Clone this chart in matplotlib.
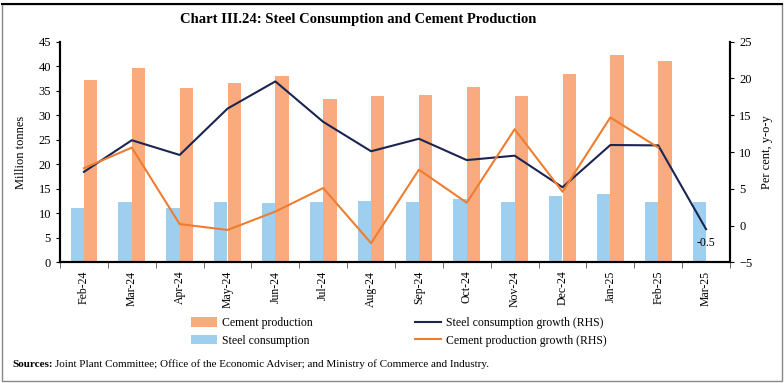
import numpy as np
import matplotlib.pyplot as plt
from matplotlib.patches import Rectangle

plt.rcParams['font.family'] = ['Liberation Serif', 'DejaVu Serif']

# Data
months = ['Feb-24', 'Mar-24', 'Apr-24', 'May-24', 'Jun-24', 'Jul-24', 'Aug-24',
          'Sep-24', 'Oct-24', 'Nov-24', 'Dec-24', 'Jan-25', 'Feb-25', 'Mar-25']
steel = [11.1, 12.4, 11.1, 12.3, 12.0, 12.2, 12.5, 12.4, 12.9, 12.35, 13.5, 13.9, 12.4, 12.4]
cement = [37.2, 39.6, 35.6, 36.5, 38.0, 33.4, 33.9, 34.2, 35.8, 33.9, 38.4, 42.2, 41.1, np.nan]
steel_growth = [7.3, 11.6, 9.6, 15.9, 19.6, 14.1, 10.1, 11.8, 8.9, 9.5, 5.2, 10.95, 10.9, -0.5]
cement_growth = [7.8, 10.6, 0.2, -0.6, 1.9, 5.1, -2.4, 7.6, 3.1, 13.1, 4.6, 14.7, 10.6, np.nan]

c_cement = '#F9AB7E'
c_steel = '#9FCFEE'
c_sg = '#1C2453'
c_cg = '#ED7D31'

fig = plt.figure(figsize=(7.84, 3.83), dpi=100)
ax = fig.add_axes([60/784, 1 - 262.3/383, 670/784, 220.6/383])
ax2 = ax.twinx()

x = np.arange(len(months))
w = 0.28
b1 = ax.bar(x + w/2, cement, width=w, color=c_cement, label='Cement production')
b2 = ax.bar(x - w/2, steel, width=w, color=c_steel, label='Steel consumption')
l1, = ax2.plot(x, steel_growth, color=c_sg, lw=1.5, label='Steel consumption growth (RHS)')
l2, = ax2.plot(x, cement_growth, color=c_cg, lw=1.5, label='Cement production growth (RHS)')
ax2.annotate('-0.5', (x[-1], steel_growth[-1]), xytext=(0, -10), textcoords='offset points',
             ha='center', va='center', fontsize=8.5)

ax.set_xlim(-0.5, len(months) - 0.5)
ax.set_ylim(0, 45)
ax.set_yticks(np.arange(0, 46, 5))
ax2.set_ylim(-5, 25)
ax2.set_yticks(np.arange(-5, 26, 5))

ax.set_xticks(x)
ax.set_xticklabels(months, rotation=90, fontsize=8.5)
ax.set_xticks(np.arange(-0.5, len(months), 1), minor=True)
ax.tick_params(axis='x', which='major', length=0, pad=6)
ax.tick_params(axis='x', which='minor', length=4, direction='out', color='#555555')
ax.tick_params(axis='y', labelsize=9, length=3)
ax2.tick_params(axis='y', labelsize=9, length=3)

for a in (ax, ax2):
    a.spines['top'].set_visible(False)
    a.spines['left'].set_linewidth(1.5)
    a.spines['right'].set_linewidth(1.5)
    a.spines['bottom'].set_linewidth(1.5)

ax.set_ylabel('Million tonnes', fontsize=9, labelpad=8)
ax2.set_ylabel('Per cent, y-o-y', fontsize=9, labelpad=6)

fig.text(0.4575, 1 - 19/383, 'Chart III.24: Steel Consumption and Cement Production',
         ha='center', va='center', fontsize=10.5, fontweight='bold')

fig.legend(handles=[b1, b2, l1, l2], loc='center', bbox_to_anchor=(0.509, 1 - 332/383), ncol=2,
           frameon=False, fontsize=8.5, columnspacing=8.7, handlelength=2.2,
           handleheight=0.9, labelspacing=0.45, handletextpad=0.4)

t = fig.text(12/784, 1 - 367/383, 'Sources:', fontsize=8, fontweight='bold', va='baseline')
fig.canvas.draw()
bb = t.get_window_extent()
fig.text(bb.x1/784 + 0.003, 1 - 367/383, 'Joint Plant Committee; Office of the Economic Adviser; '
         'and Ministry of Commerce and Industry.', fontsize=8, va='baseline')

# frame around the chart
fig.add_artist(Rectangle((2/784, 2/383), 780/784, 377/383, transform=fig.transFigure,
                         fill=False, edgecolor='#888888', lw=1))
fig.add_artist(plt.Line2D([2/784, 782/784], [379/383, 379/383], transform=fig.transFigure,
                          color='black', lw=1.5))

fig.savefig('out.png', dpi=100)
